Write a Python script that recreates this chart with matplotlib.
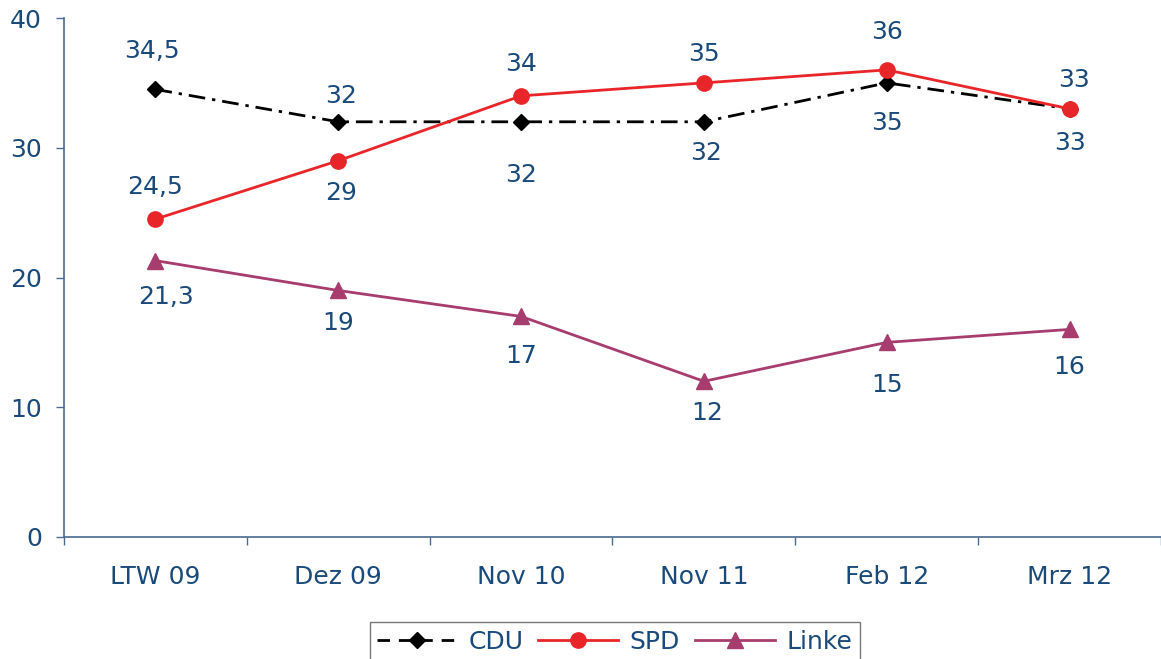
import matplotlib
matplotlib.use("Agg")
import matplotlib.pyplot as plt
from matplotlib.lines import Line2D
import numpy as np

categories = ["LTW 09", "Dez 09", "Nov 10", "Nov 11", "Feb 12", "Mrz 12"]
cdu = [34.5, 32, 32, 32, 35, 33]
spd = [24.5, 29, 34, 35, 36, 33]
linke = [21.3, 19, 17, 12, 15, 16]
yticks = [0, 10, 20, 30, 40]

# label offsets in pixels (dx, dy) - positive dy = up
cdu_off = [(-3, 38), (3, 26), (0, -53), (2, -31), (0, -40), (0, -34)]
spd_off = [(0, 32), (3, -32), (0, 32), (0, 29), (0, 38), (4, 29)]
linke_off = [(11, -36), (0, -33), (0, -40), (3, -32), (0, -43), (0, -38)]

txt = "#1a4a7a"
axc = "#4a6b8f"
fs = 18

fig = plt.figure(figsize=(11.61, 6.59), dpi=100)
ax = fig.add_axes([64/1161, 1-537/659, (1161-64)/1161, (537-18)/659])

x = np.arange(len(categories))
fmt = lambda v: (f"{v:g}").replace(".", ",")

l1, = ax.plot(x, cdu, color="black", lw=2, dashes=[6, 2.5, 1.2, 2.5], marker="D",
              markersize=8, markerfacecolor="black", markeredgecolor="black", label="CDU", zorder=3)
l2, = ax.plot(x, spd, color="#e8262a", lw=2, marker="o", markersize=11,
              label="SPD", zorder=4)
l3, = ax.plot(x, linke, color="#a63d6e", lw=2, marker="^", markersize=11,
              label="Linke", zorder=3)

for vals, offs in [(cdu, cdu_off), (spd, spd_off), (linke, linke_off)]:
    for xi, v, (dx, dy) in zip(x, vals, offs):
        ax.annotate(fmt(v), (xi, v), xytext=(dx, dy), textcoords="offset pixels",
                    ha="center", va="center", fontsize=fs, color=txt)

ax.set_xlim(-0.5, 5.5)
ax.set_ylim(0, 40)
ax.set_yticks(yticks)
ax.set_yticklabels([str(t) for t in yticks])
ax.set_xticks(x)
ax.set_xticklabels(categories)
ax.set_xticks(np.arange(-0.5, 6.0, 1.0), minor=True)
ax.tick_params(axis="x", which="major", length=0, pad=20, labelsize=fs, labelcolor=txt)
ax.tick_params(axis="x", which="minor", length=6, width=1, color=axc, direction="out")
ax.tick_params(axis="y", length=6, width=1, color=axc, labelsize=fs, labelcolor=txt, pad=10)

for s in ["top", "right"]:
    ax.spines[s].set_visible(False)
for s in ["left", "bottom"]:
    ax.spines[s].set_color(axc)
    ax.spines[s].set_linewidth(1.2)

h1 = Line2D([], [], color="black", lw=2, dashes=[4.5, 3.2], marker="D", markersize=8,
            markerfacecolor="black", markeredgecolor="black")
leg = ax.legend(handles=[h1, l2, l3], labels=["CDU", "SPD", "Linke"], loc="upper center",
                bbox_to_anchor=(0.502, -0.14),
                ncol=3, frameon=True, fancybox=False, fontsize=fs, handlelength=3.2,
                columnspacing=0.6, handletextpad=0.45, borderpad=0.3, labelcolor=txt)
leg.get_frame().set_edgecolor("#555555")
leg.get_frame().set_linewidth(1.0)

fig.savefig("out.png", dpi=100)
